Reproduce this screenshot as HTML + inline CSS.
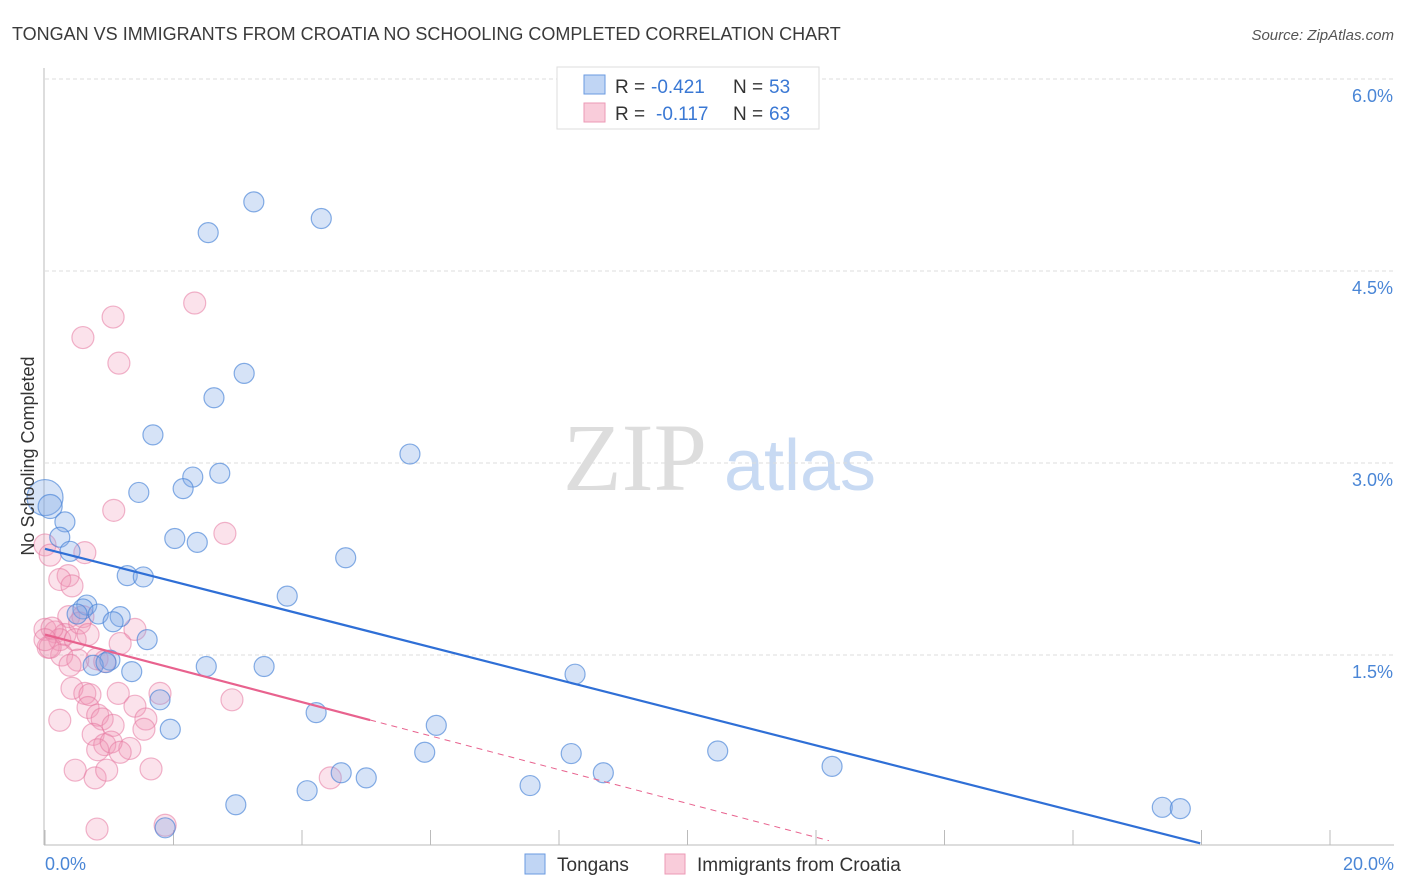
<!DOCTYPE html>
<html><head><meta charset="utf-8"><style>
body{margin:0;background:#fff;font-family:"Liberation Sans",sans-serif;}
svg{display:block}
</style></head><body>
<svg width="1406" height="892" xmlns="http://www.w3.org/2000/svg">
<text x="12" y="40" font-size="18" fill="#3a3a3a">TONGAN VS IMMIGRANTS FROM CROATIA NO SCHOOLING COMPLETED CORRELATION CHART</text>
<text x="1394" y="40" font-size="15" fill="#555" font-style="italic" text-anchor="end">Source: ZipAtlas.com</text>
<g>
<text x="635" y="490" font-size="96" font-family="Liberation Serif,serif" fill="#ddd" text-anchor="middle">ZIP</text>
<text x="800" y="490" font-size="72" fill="#c8daf3" text-anchor="middle">atlas</text>
</g>
<g id="grid"></g>
<g id="axes"></g>
<g id="pts"></g>
<g id="lines"></g>
<text transform="translate(34,456) rotate(-90)" font-size="18" fill="#333" text-anchor="middle">No Schooling Completed</text>
<text x="45" y="870" font-size="18" fill="#4a86d6">0.0%</text>
<text x="1394" y="870" font-size="18" fill="#4a86d6" text-anchor="end">20.0%</text>
<g>
<rect x="557" y="67" width="262" height="62" fill="#fff" stroke="#ddd"/>
<rect x="584" y="75" width="21" height="19" fill="#c0d5f4" stroke="#6a9ae0"/>
<rect x="584" y="103" width="21" height="19" fill="#f9ccda" stroke="#ec9ab6"/>
<text y="93" font-size="19" fill="#333"><tspan x="615">R =</tspan><tspan x="651" fill="#3a78d4">-0.421</tspan><tspan x="733">N =</tspan><tspan x="769" fill="#3a78d4">53</tspan></text>
<text y="120" font-size="19" fill="#333"><tspan x="615">R =</tspan><tspan x="656" fill="#3a78d4">-0.117</tspan><tspan x="733">N =</tspan><tspan x="769" fill="#3a78d4">63</tspan></text>
</g>
<g>
<rect x="525" y="854" width="20" height="20" fill="#c0d5f4" stroke="#6a9ae0"/>
<text x="557" y="871" font-size="19" fill="#333">Tongans</text>
<rect x="665" y="854" width="20" height="20" fill="#f9ccda" stroke="#ec9ab6"/>
<text x="697" y="871" font-size="19" fill="#333">Immigrants from Croatia</text>
</g>
</svg>
<script>
const yTicks=[1.5,3.0,4.5,6.0];
const yTickLabels=["1.5%","3.0%","4.5%","6.0%"];
const xTicks=[0,2,4,6,8,10,12,14,16,18,20];
const blueX=[3.25,2.54,4.30,3.10,2.63,1.68,5.68,2.30,2.72,2.15,1.46,0,0.08,0.31,0.23,0.39,2.02,2.37,4.68,1.28,1.53,3.77,0.65,0.59,0.83,1.17,1.06,0.50,1.59,1.01,0.75,0.95,1.35,2.51,3.41,8.25,1.79,4.22,1.95,6.09,5.91,8.19,10.47,4.61,5.00,8.69,12.25,7.55,4.08,2.97,1.87,17.39,17.67];
const blueY=[5.04,4.80,4.91,3.70,3.51,3.22,3.07,2.89,2.92,2.80,2.77,2.73,2.66,2.54,2.42,2.31,2.41,2.38,2.26,2.12,2.11,1.96,1.89,1.86,1.82,1.80,1.76,1.82,1.62,1.46,1.42,1.44,1.37,1.41,1.41,1.35,1.15,1.05,0.92,0.95,0.74,0.73,0.75,0.58,0.54,0.58,0.63,0.48,0.44,0.33,0.15,0.31,0.30];
const blueR=[12,12,12,12,12,12,12,12,12,12,12,20,14,12,12,12,12,12,12,12,12,12,12,12,12,12,12,12,12,12,12,12,12,12,12,12,12,12,12,12,12,12,12,12,12,12,12,12,12,12,12,12,12];
const pinkX=[2.33,1.06,0.59,1.15,1.07,2.80,0.62,0,0.08,0.36,0.23,0.42,0.37,0.59,0,0.16,0.31,0.54,0.23,0.47,0.67,1.40,1.17,0.05,0.26,0.51,0.81,0.93,0.08,0.39,1.14,0.42,0.62,1.79,0.70,1.40,2.91,0.23,0.67,0.82,0.89,1.06,1.57,1.54,0.75,0.93,0.82,1.32,1.03,1.17,0.47,0.78,0.96,1.65,4.44,0.81,1.87,0.11,0];
const pinkY=[4.25,4.14,3.98,3.78,2.63,2.45,2.30,2.36,2.28,2.12,2.09,2.04,1.80,1.80,1.70,1.68,1.66,1.75,1.62,1.62,1.66,1.70,1.59,1.56,1.50,1.46,1.47,1.45,1.56,1.42,1.20,1.24,1.20,1.20,1.19,1.10,1.15,0.99,1.09,1.03,1.00,0.95,1.00,0.92,0.88,0.80,0.76,0.77,0.82,0.74,0.60,0.54,0.60,0.61,0.54,0.14,0.17,1.71,1.62];
const blueTrend=[2.33,-0.128];
const pinkTrend=[1.66,-0.132];
const NS="http://www.w3.org/2000/svg";
const X=v=>45+v*64.25, Y=v=>847-v*128;
function mk(t,a,p){const e=document.createElementNS(NS,t);for(const k in a)e.setAttribute(k,a[k]);document.getElementById(p).appendChild(e);return e;}
yTicks.forEach((t,i)=>{
 const l=mk('line',{x1:45,x2:1394,y1:Y(t),y2:Y(t),stroke:'#ddd','stroke-dasharray':'4,3'},'grid');
 
 
 const tx=mk('text',{x:1393,y:Y(t)+23,'font-size':18,fill:'#4a86d6','text-anchor':'end'},'grid');
 tx.textContent=yTickLabels[i];
 
 
});
const ya=mk('line',{x1:44,x2:44,y1:68,y2:845,stroke:'#bbb'},'axes');


const xa=mk('line',{x1:44,x2:1394,y1:845,y2:845,stroke:'#bbb'},'axes');


xTicks.forEach(t=>{
 const l=mk('line',{x1:45+t*64.25,x2:45+t*64.25,y1:830,y2:845,stroke:'#bbb'},'axes');
 
 
});
pinkX.forEach((v,i)=>{
 const c=mk('circle',{cx:X(v),cy:Y(pinkY[i]),r:11,fill:'rgba(242,150,182,0.28)',stroke:'rgba(230,120,160,0.55)','stroke-width':1.2},'pts');
 
 
});
blueX.forEach((v,i)=>{
 const c=mk('circle',{cx:X(v),cy:Y(blueY[i]),r:blueR[i]-2,fill:'rgba(130,170,230,0.33)',stroke:'rgba(70,130,215,0.65)','stroke-width':1.2},'pts');
 
 
});
const bl=mk('line',{x1:X(0),y1:Y(blueTrend[0]),x2:X(17.98),y2:Y(blueTrend[0]+blueTrend[1]*17.98),stroke:'#2f6fd6','stroke-width':2.2},'lines');


const pl=mk('line',{x1:X(0),y1:Y(pinkTrend[0]),x2:X(5.06),y2:Y(pinkTrend[0]+pinkTrend[1]*5.06),stroke:'#e8628e','stroke-width':2.2},'lines');


const pd=mk('line',{x1:X(5.06),y1:Y(pinkTrend[0]+pinkTrend[1]*5.06),x2:X(12.2),y2:Y(pinkTrend[0]+pinkTrend[1]*12.2),stroke:'#e8628e','stroke-width':1,'stroke-dasharray':'6,5'},'lines');


</script>
</body></html>
